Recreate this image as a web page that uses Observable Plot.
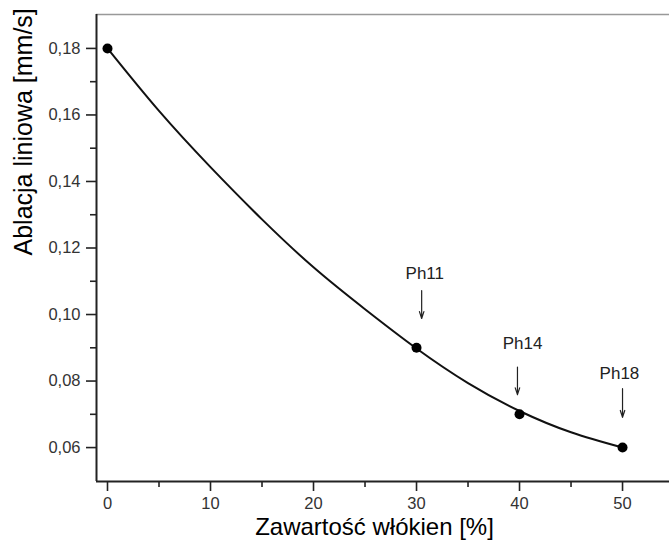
<!DOCTYPE html>
<html>
<head>
<meta charset="utf-8">
<script src="https://cdn.jsdelivr.net/npm/d3@7"></script>
<script src="https://cdn.jsdelivr.net/npm/@observablehq/plot@0.6"></script>
<style>
  html, body { margin: 0; padding: 0; background: #fff; }
  #chart { width: 669px; height: 547px; }
</style>
</head>
<body>
<div id="chart"></div>
<script>
// Measured points
const pointX = [0, 30, 40, 50];
const pointY = [0.18, 0.09, 0.07, 0.06];

// Fitted curve
const curveX = [0, 5, 10, 15, 20, 25, 30, 35, 40, 45, 50];
const curveY = [0.180, 0.1612, 0.1443, 0.1286, 0.1142, 0.1016, 0.0898, 0.0794, 0.0710, 0.0646, 0.0600];

// Tick values
const xTicks = [0, 10, 20, 30, 40, 50];
const xMinorTicks = [5, 15, 25, 35, 45];
const yTicks = [0.06, 0.08, 0.10, 0.12, 0.14, 0.16, 0.18];
const yMinorTicks = [0.07, 0.09, 0.11, 0.13, 0.15, 0.17];

// Annotations (data coordinates)
const annotLabels = ["Ph11", "Ph14", "Ph18"];
const annotTextX = [30.8, 40.3, 49.7];
const annotTextY = [0.1123, 0.0913, 0.0823];
const arrowX = [30.5, 39.8, 50];
const arrowTop = [0.1072, 0.0842, 0.0777];
const arrowBottom = [0.0988, 0.0759, 0.0691];

const xLabel = "Zawartość włókien [%]";
const yLabel = "Ablacja liniowa [mm/s]";

const xDomain = [-1.068, 54.56];
const yDomain = [0.0498, 0.1902];

const points = pointX.map((x, i) => ({x, y: pointY[i]}));
const curve = curveX.map((x, i) => ({x, y: curveY[i]}));
const annots = annotLabels.map((t, i) => ({
  t, tx: annotTextX[i], ty: annotTextY[i], ax: arrowX[i], a1: arrowTop[i], a2: arrowBottom[i]
}));

const fmt = d => d.toFixed(2).replace(".", ",");
const font = "'Liberation Sans', Arial, Helvetica, sans-serif";

const chart = Plot.plot({
  width: 669,
  height: 547,
  marginLeft: 96,
  marginRight: 0,
  marginTop: 14,
  marginBottom: 66,
  style: {fontFamily: font, background: "#fff", overflow: "visible"},
  x: {domain: xDomain},
  y: {domain: yDomain},
  marks: [
    // top border
    Plot.ruleY([yDomain[1]], {stroke: "#999", strokeWidth: 1.6}),
    // axes
    Plot.axisX({ticks: xTicks, tickSize: 10, tickPadding: 6, tickFormat: d => String(d),
      stroke: "#222", strokeWidth: 1.6, fill: "#333", fontSize: 16.5, label: null}),
    Plot.axisX({ticks: xMinorTicks, tickSize: 6, tickFormat: () => "",
      stroke: "#222", strokeWidth: 1.6, label: null}),
    Plot.axisY({ticks: yTicks, tickSize: 10, tickPadding: 6, tickFormat: fmt,
      stroke: "#222", strokeWidth: 1.6, fill: "#333", fontSize: 16.5, label: null}),
    Plot.axisY({ticks: yMinorTicks, tickSize: 6, tickFormat: () => "",
      stroke: "#222", strokeWidth: 1.6, label: null}),
    Plot.ruleX([xDomain[0]], {stroke: "#222", strokeWidth: 2}),
    Plot.ruleY([yDomain[0]], {stroke: "#222", strokeWidth: 2}),
    // curve and points
    Plot.line(curve, {x: "x", y: "y", curve: "natural", stroke: "#111", strokeWidth: 2}),
    Plot.dot(points, {x: "x", y: "y", r: 5, fill: "#000", stroke: "none"}),
    // annotations
    Plot.arrow(annots, {x1: "ax", x2: "ax", y1: "a1", y2: "a2", stroke: "#222",
      strokeWidth: 1.2, headLength: 9, headAngle: 36}),
    Plot.text(annots, {x: "tx", y: "ty", text: "t", fontSize: 17, fill: "#222"}),
    // axis labels
    Plot.text([xLabel], {frameAnchor: "bottom", dx: -8.5, dy: 53, fontSize: 24, fill: "#000"}),
    Plot.text([yLabel], {frameAnchor: "left", dx: -73, dy: 7.5, rotate: -90, fontSize: 25, fill: "#000"})
  ]
});
document.getElementById("chart").appendChild(chart);
</script>
</body>
</html>
